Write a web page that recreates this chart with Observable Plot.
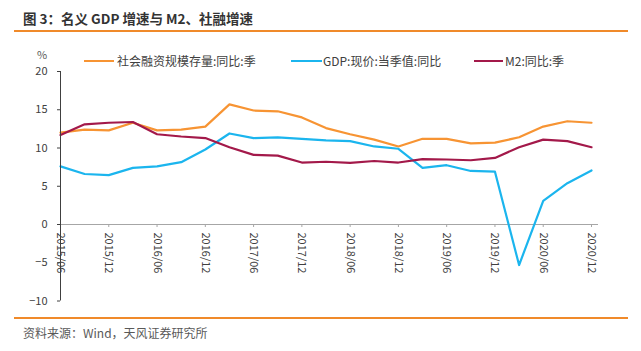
<!DOCTYPE html>
<html><head><meta charset="utf-8">
<script src="https://cdn.jsdelivr.net/npm/d3@7"></script>
<script src="https://cdn.jsdelivr.net/npm/@observablehq/plot@0.6"></script>
<style>
body{margin:0;width:641px;height:351px;position:relative;background:#fff;font-family:"Noto Sans CJK SC","Microsoft YaHei",sans-serif;overflow:hidden}
.abs{position:absolute;white-space:nowrap}
.lg{font-size:12px;color:#404040;line-height:16px}
.sw{height:2px}
</style></head><body>
<div class="abs" style="left:23px;top:8px;font-size:13.5px;font-weight:bold;color:#333;line-height:20px">图 3：名义 GDP 增速与 M2、社融增速</div>
<div class="abs" style="left:14px;top:30px;width:614px;height:1.5px;background:#F08A2A"></div>
<div class="abs" style="left:37px;top:49px;font-size:11px;color:#595959;line-height:11px">%</div>
<div class="abs sw" style="left:84px;top:60px;width:30px;background:#F79433"></div>
<div class="abs lg" style="left:117px;top:53px">社会融资规模存量:同比:季</div>
<div class="abs sw" style="left:291px;top:60px;width:31px;background:#1BB5EE"></div>
<div class="abs lg" style="left:323px;top:53px">GDP:现价:当季值:同比</div>
<div class="abs sw" style="left:474px;top:60px;width:29px;background:#A3194A"></div>
<div class="abs lg" style="left:505px;top:53px">M2:同比:季</div>
<div class="abs" id="chart" style="left:0;top:64px"></div>
<div class="abs" style="left:14px;top:317px;width:614px;height:1.5px;background:#F08A2A"></div>
<div class="abs" style="left:23px;top:325px;font-size:12px;color:#595959;line-height:16px">资料来源：Wind，天风证券研究所</div>
<script>
const quarters = ["2015/06","2015/09","2015/12","2016/03","2016/06","2016/09","2016/12","2017/03","2017/06","2017/09","2017/12","2018/03","2018/06","2018/09","2018/12","2019/03","2019/06","2019/09","2019/12","2020/03","2020/06","2020/09","2020/12"];
const sheRong = [12.0,12.4,12.3,13.3,12.3,12.4,12.8,15.7,14.9,14.8,14.0,12.6,11.8,11.1,10.2,11.2,11.2,10.6,10.7,11.4,12.8,13.5,13.3];
const gdp = [7.6,6.6,6.45,7.4,7.6,8.15,9.8,11.9,11.3,11.4,11.2,11.0,10.9,10.2,9.9,7.4,7.75,7.0,6.9,-5.3,3.1,5.4,7.06];
const m2 = [11.7,13.1,13.3,13.4,11.8,11.5,11.3,10.1,9.1,9.0,8.1,8.2,8.05,8.3,8.1,8.55,8.5,8.4,8.7,10.1,11.1,10.9,10.1];
const yTicks = [-10,-5,0,5,10,15,20];

const idx = quarters.map((q, i) => i);
const tickIdx = idx.filter(i => /\/(06|12)$/.test(quarters[i]));
const series = [
  {name: "社会融资规模存量:同比:季", values: sheRong, color: "#F79433"},
  {name: "GDP:现价:当季值:同比", values: gdp, color: "#1BB5EE"},
  {name: "M2:同比:季", values: m2, color: "#A3194A"}
];
const font = '"Noto Sans CJK SC","Microsoft YaHei",sans-serif';
const chart = Plot.plot({
  width: 641, height: 250,
  marginLeft: 60, marginRight: 50, marginTop: 7, marginBottom: 13.5,
  x: {type: "linear", domain: [0, quarters.length - 1], axis: null},
  y: {domain: [-10, 20], axis: null},
  style: {fontFamily: font, fontSize: "11px", color: "#404040", background: "transparent", overflow: "visible"},
  marks: [
    Plot.ruleY([0], {stroke: "#A6A6A6", insetRight: -7}),
    Plot.ruleX(tickIdx, {x: d => d, y1: 0, y2: 0, insetBottom: -3, stroke: "#A6A6A6"}),
    Plot.text(tickIdx, {x: d => d, y: 0, text: d => quarters[d], rotate: 90, textAnchor: "start", dy: 8, fill: "#404040", fontSize: 11}),
    ...series.map(s => Plot.line(s.values, {x: (d, i) => i, y: d => d, stroke: s.color, strokeWidth: 2.2, strokeLinejoin: "round"})),
    Plot.ruleX([0], {y1: -10, y2: 20, stroke: "#404040"}),
    Plot.axisY({ticks: yTicks, tickSize: 3, tickPadding: 10, stroke: "#404040", fill: "#404040", fontSize: 11, label: null})
  ]
});
document.getElementById("chart").appendChild(chart);
</script>
</body></html>
